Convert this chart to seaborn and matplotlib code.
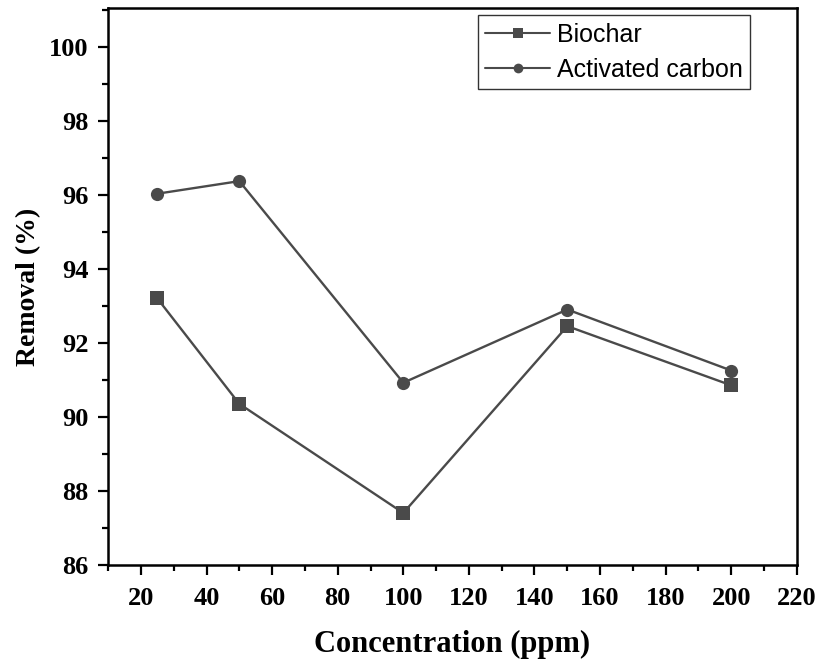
import matplotlib
matplotlib.use("Agg")
import matplotlib.pyplot as plt
import seaborn as sns
import pandas as pd
from matplotlib.ticker import MultipleLocator

concentration = [25, 50, 100, 150, 200]
biochar = [93.2, 90.35, 87.4, 92.45, 90.85]
activated_carbon = [96.03, 96.37, 90.92, 92.9, 91.25]

df = pd.concat([
    pd.DataFrame({"Concentration": concentration, "Removal": biochar, "Sample": "Biochar"}),
    pd.DataFrame({"Concentration": concentration, "Removal": activated_carbon, "Sample": "Activated carbon"}),
])

sns.set_style("white")
fig = plt.figure(figsize=(8.19, 6.66), dpi=100)
ax = fig.add_axes([0.132, 0.152, 0.841, 0.836])

gray = "#4a4a4a"
sns.lineplot(data=df, x="Concentration", y="Removal", hue="Sample", style="Sample",
             markers={"Biochar": "s", "Activated carbon": "o"}, dashes=False,
             palette={"Biochar": gray, "Activated carbon": gray},
             markersize=9.5, linewidth=1.7, markeredgewidth=0, ax=ax)

ax.set_xlim(10, 220)
ax.set_ylim(86, 101.05)
ax.xaxis.set_major_locator(MultipleLocator(20))
ax.xaxis.set_minor_locator(MultipleLocator(10))
ax.yaxis.set_major_locator(MultipleLocator(2))
ax.yaxis.set_minor_locator(MultipleLocator(1))
ax.set_xticks(range(20, 221, 20))
ax.tick_params(which="both", direction="out", bottom=True, left=True, top=False, right=False, color="black")
ax.tick_params(which="major", length=7, width=1.6)
ax.tick_params(which="minor", length=4, width=1.6)
for s in ax.spines.values():
    s.set_color("black")
    s.set_linewidth(1.8)

serif = ["Liberation Serif", "DejaVu Serif"]
for lab in ax.get_xticklabels() + ax.get_yticklabels():
    lab.set_fontfamily(serif)
    lab.set_fontweight("bold")
    lab.set_fontsize(19)
    lab.set_color("black")
ax.tick_params(axis="x", pad=9)
ax.tick_params(axis="y", pad=7)

ax.set_xlabel("Concentration (ppm)", fontfamily=serif, fontweight="bold", fontsize=22, labelpad=14, color="black")
ax.set_ylabel("Removal (%)", fontfamily=serif, fontweight="bold", fontsize=20, labelpad=6, color="black")

leg = ax.legend(loc="upper right", bbox_to_anchor=(0.932, 0.987), frameon=True, fancybox=False,
                prop={"family": "Liberation Sans", "size": 18}, borderpad=0.3, labelspacing=0.45,
                handlelength=2.6, handletextpad=0.25, borderaxespad=0.0)
leg.get_frame().set_edgecolor("black")
leg.get_frame().set_linewidth(1.0)
for t in leg.get_texts():
    t.set_color("black")
for h in leg.get_lines():
    h.set_markersize(7)
    h.set_linewidth(1.5)

fig.savefig("out.png", dpi=100)
